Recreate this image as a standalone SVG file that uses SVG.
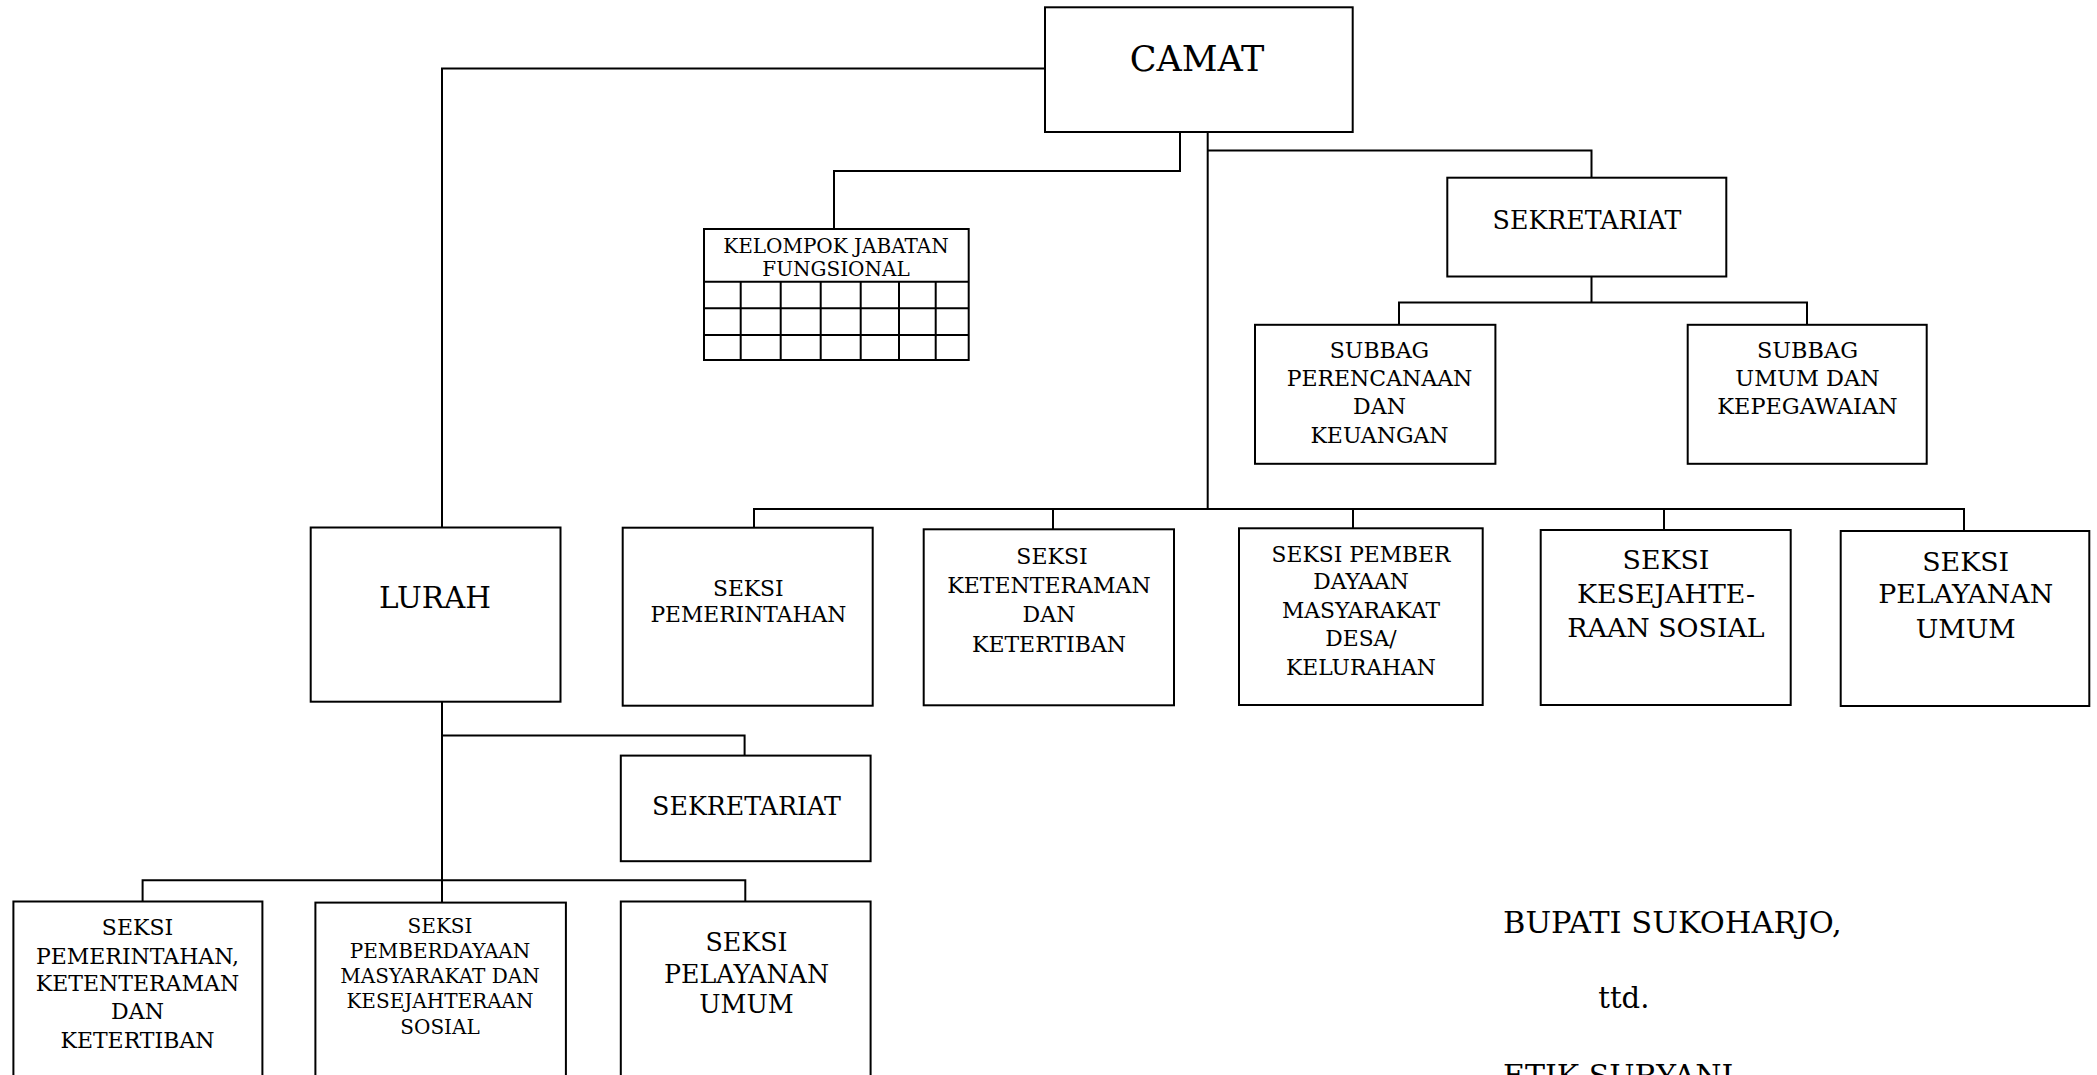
<svg xmlns="http://www.w3.org/2000/svg" width="2097" height="1075" viewBox="0 0 2097 1075">
<style>
.box{fill:#fff;stroke:#000;stroke-width:2}
.ln{fill:none;stroke:#000;stroke-width:2}
text{font-family:"DejaVu Serif","Liberation Serif",serif;fill:#000;text-anchor:middle}
.st{text-anchor:start}
</style>
<rect width="2097" height="1075" fill="#fff"/>
<g id="connectors">
<path class="ln" d="M1045,68.5 H442 V527.5"/>
<path class="ln" d="M1180,132 V171 H834 V229"/>
<path class="ln" d="M1207.7,132 V509"/>
<path class="ln" d="M1207.7,150.5 H1591.5 V177.7"/>
<path class="ln" d="M754,527.7 V509 H1964 V531"/>
<path class="ln" d="M1053,509 V529.3 M1353,509 V528.3 M1664,509 V530"/>
<path class="ln" d="M1591.5,276.5 V302.4 M1399,324.8 V302.4 H1807 V324.8"/>
<path class="ln" d="M442,701.7 V902.6"/>
<path class="ln" d="M442,735.4 H744.6 V755.6"/>
<path class="ln" d="M142.6,901.5 V880.3 H745.3 V901.5"/>
</g>
<g id="camat">
<rect class="box" x="1045" y="7.3" width="307.7" height="124.7"/>
<text x="1197" y="71" font-size="35">CAMAT</text>
</g>
<g id="kjf">
<rect class="box" x="704" y="229" width="264.7" height="131"/>
<path class="ln" d="M704,281.7 H968.7 M704,308.3 H968.7 M704,335 H968.7 M740.7,281.7 V360 M780.7,281.7 V360 M820.7,281.7 V360 M860.7,281.7 V360 M899,281.7 V360 M935.7,281.7 V360"/>
<text x="836" y="252.7" font-size="20">KELOMPOK JABATAN</text>
<text x="836" y="275.7" font-size="20">FUNGSIONAL</text>
</g>
<g id="sekretariat-camat">
<rect class="box" x="1447.3" y="177.7" width="279" height="98.8"/>
<text x="1587" y="229" font-size="25.3">SEKRETARIAT</text>
</g>
<g id="subbag-pk">
<rect class="box" x="1255" y="324.8" width="240.4" height="139"/>
<text x="1379.5" y="358" font-size="22">SUBBAG</text>
<text x="1379.5" y="386.4" font-size="22">PERENCANAAN</text>
<text x="1379.5" y="414.3" font-size="22">DAN</text>
<text x="1379.5" y="442.5" font-size="22">KEUANGAN</text>
</g>
<g id="subbag-uk">
<rect class="box" x="1687.7" y="324.8" width="239" height="139"/>
<text x="1807.5" y="358" font-size="22.4">SUBBAG</text>
<text x="1807.5" y="386.4" font-size="22.4">UMUM DAN</text>
<text x="1807.5" y="414.3" font-size="22.4">KEPEGAWAIAN</text>
</g>
<g id="lurah">
<rect class="box" x="310.7" y="527.5" width="249.8" height="174.2"/>
<text x="435" y="608" font-size="29.5">LURAH</text>
</g>
<g id="seksi-pemerintahan">
<rect class="box" x="622.7" y="527.7" width="250" height="178"/>
<text x="748.3" y="595.7" font-size="21.8">SEKSI</text>
<text x="748.3" y="622.3" font-size="21.8">PEMERINTAHAN</text>
</g>
<g id="seksi-ketenteraman">
<rect class="box" x="923.7" y="529.3" width="250.3" height="176"/>
<text x="1052" y="564" font-size="22">SEKSI</text>
<text x="1049" y="593.3" font-size="22">KETENTERAMAN</text>
<text x="1049" y="621.7" font-size="22">DAN</text>
<text x="1049" y="651.7" font-size="22">KETERTIBAN</text>
</g>
<g id="seksi-pemberdayaan">
<rect class="box" x="1239" y="528.3" width="243.7" height="176.7"/>
<text x="1361" y="561.7" font-size="21.8">SEKSI PEMBER</text>
<text x="1361" y="589" font-size="21.8">DAYAAN</text>
<text x="1361" y="617.7" font-size="21.8">MASYARAKAT</text>
<text x="1361" y="646" font-size="21.8">DESA/</text>
<text x="1361" y="675" font-size="21.8">KELURAHAN</text>
</g>
<g id="seksi-kesejahteraan">
<rect class="box" x="1540.7" y="530" width="250" height="175"/>
<text x="1666" y="569.3" font-size="26.8">SEKSI</text>
<text x="1666" y="602.7" font-size="26.8">KESEJAHTE-</text>
<text x="1666" y="637.3" font-size="26.8">RAAN SOSIAL</text>
</g>
<g id="seksi-pelayanan">
<rect class="box" x="1840.7" y="531" width="248.6" height="175"/>
<text x="1965.7" y="571" font-size="26.8">SEKSI</text>
<text x="1965.7" y="603.3" font-size="26.8">PELAYANAN</text>
<text x="1965.7" y="637.7" font-size="26.8">UMUM</text>
</g>
<g id="sekretariat-lurah">
<rect class="box" x="620.8" y="755.6" width="249.8" height="105.6"/>
<text x="746.5" y="815" font-size="25.3">SEKRETARIAT</text>
</g>
<g id="lurah-seksi-pemerintahan">
<rect class="box" x="13.4" y="901.5" width="249" height="190"/>
<text x="137.5" y="934.5" font-size="22">SEKSI</text>
<text x="137.5" y="963.9" font-size="22">PEMERINTAHAN,</text>
<text x="137.5" y="991.4" font-size="22">KETENTERAMAN</text>
<text x="137.5" y="1018.9" font-size="22">DAN</text>
<text x="137.5" y="1048.2" font-size="22">KETERTIBAN</text>
</g>
<g id="lurah-seksi-pemberdayaan">
<rect class="box" x="315.4" y="902.6" width="250.5" height="190"/>
<text x="440" y="932.7" font-size="20">SEKSI</text>
<text x="440" y="958.4" font-size="20">PEMBERDAYAAN</text>
<text x="440" y="983.3" font-size="20">MASYARAKAT DAN</text>
<text x="440" y="1007.9" font-size="20">KESEJAHTERAAN</text>
<text x="440" y="1033.6" font-size="20">SOSIAL</text>
</g>
<g id="lurah-seksi-pelayanan">
<rect class="box" x="620.8" y="901.5" width="249.8" height="190"/>
<text x="746.5" y="951" font-size="25.3">SEKSI</text>
<text x="746.5" y="983.3" font-size="25.3">PELAYANAN</text>
<text x="746.5" y="1013.4" font-size="25.3">UMUM</text>
</g>
<g id="signature">
<text class="st" x="1503" y="933.3" font-size="30.5">BUPATI SUKOHARJO,</text>
<text class="st" x="1598.3" y="1008.3" font-size="29">ttd.</text>
<text class="st" x="1503" y="1086" font-size="30">ETIK SURYANI</text>
</g>
</svg>
